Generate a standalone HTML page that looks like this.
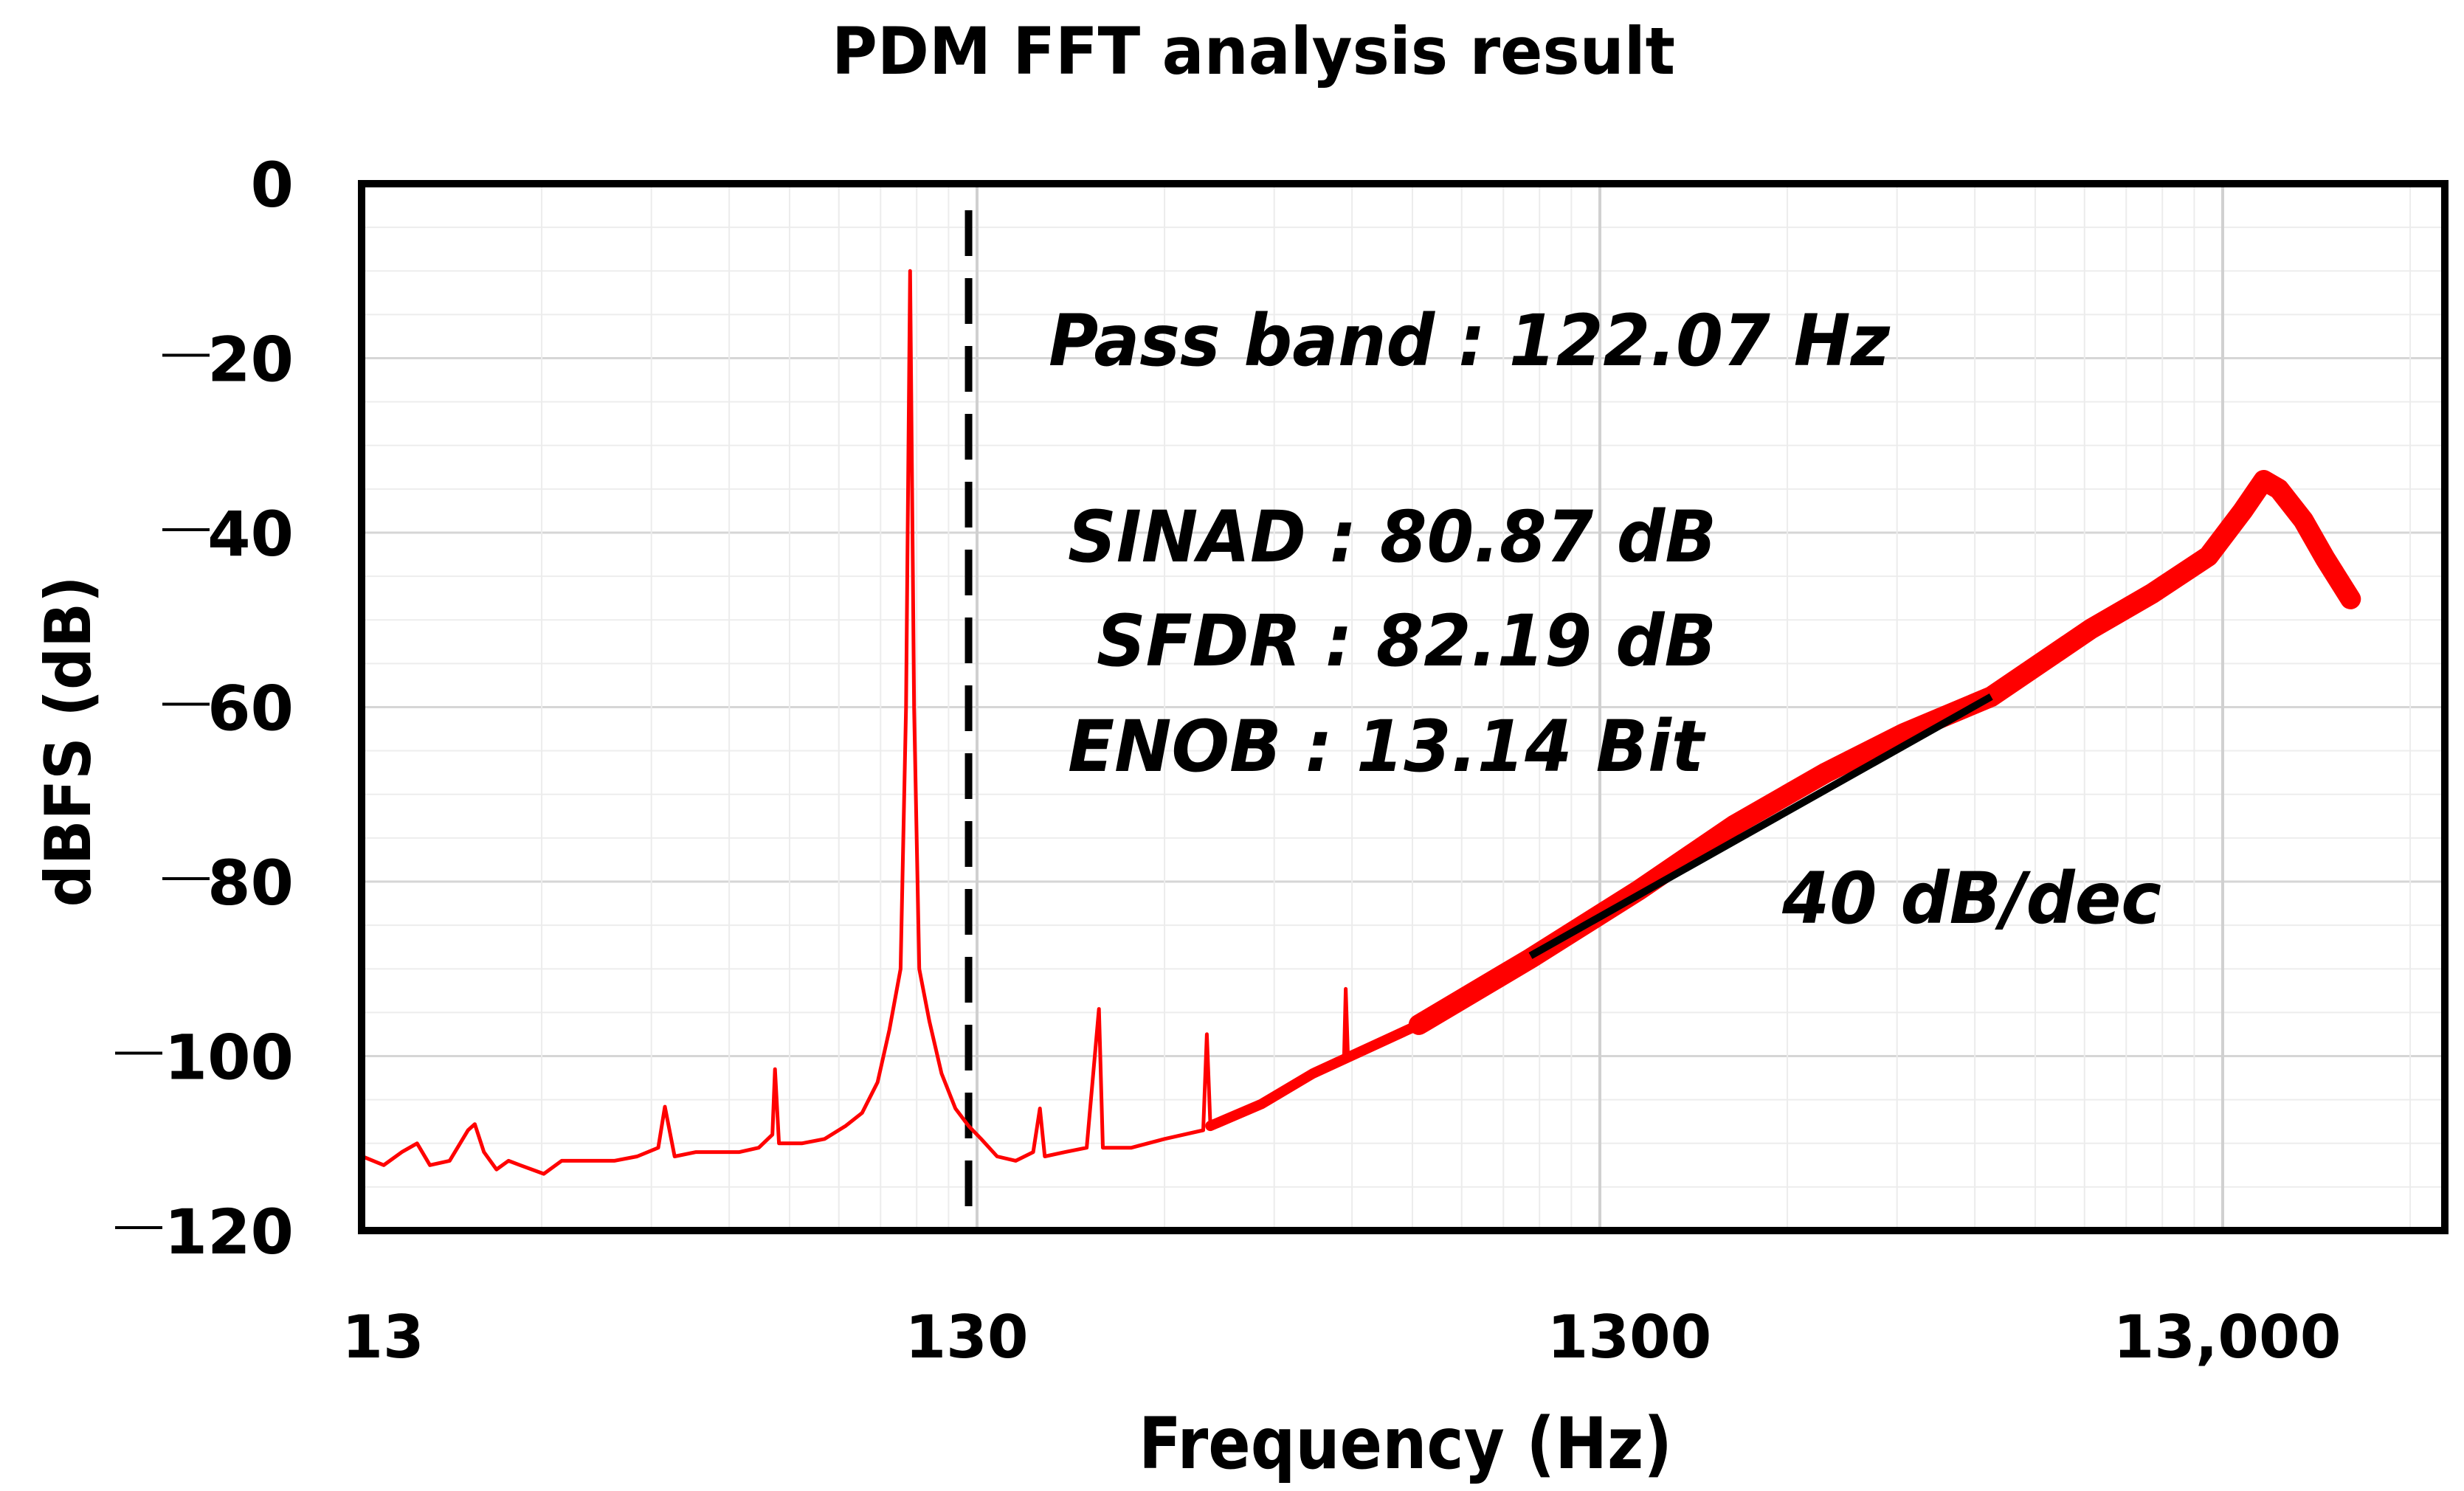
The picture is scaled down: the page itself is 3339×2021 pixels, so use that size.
<!DOCTYPE html>
<html><head><meta charset="utf-8"><style>
html,body{margin:0;padding:0;background:#fff;}
svg{display:block;font-family:"DejaVu Sans","Liberation Sans",sans-serif;}
</style></head><body>
<svg id="chart" width="3339" height="2021" viewBox="0 0 3339 2021" xmlns="http://www.w3.org/2000/svg">
<g id="grid"></g>
<g id="plot"></g>
<text x="1127" y="100" font-size="88" font-weight="bold" textLength="1143" lengthAdjust="spacingAndGlyphs">PDM FFT analysis result</text>
<text transform="translate(122,1005) rotate(-90)" font-size="86" font-weight="bold" text-anchor="middle" textLength="449" lengthAdjust="spacingAndGlyphs">dBFS (dB)</text>
<text x="1543" y="1990" font-size="96" font-weight="bold" textLength="723" lengthAdjust="spacingAndGlyphs">Frequency (Hz)</text>
<g id="yticks"></g>
<g id="xticks"></g>
<g font-weight="bold" font-style="italic" font-size="96">
<text x="1421" y="495" textLength="1140" lengthAdjust="spacingAndGlyphs">Pass band : 122.07 Hz</text>
<text x="1447" y="761" textLength="879" lengthAdjust="spacingAndGlyphs">SINAD : 80.87 dB</text>
<text x="1486" y="902" textLength="840" lengthAdjust="spacingAndGlyphs">SFDR : 82.19 dB</text>
<text x="1447" y="1045" textLength="862" lengthAdjust="spacingAndGlyphs">ENOB : 13.14 Bit</text>
<text x="2415" y="1251" textLength="514" lengthAdjust="spacingAndGlyphs">40 dB/dec</text>
</g>
</svg>
<script>
const freqs=[13.4,14.5,15.5,16.4,17.2,18.5,19.8,20.3,21,22,23,24,26.2,28,31,34,37,40,41,42.5,46,50,54,58,61,61.6,62.5,68,74,80,85,90,94,98,100,101.5,103,105,109,114,120,126,132,140,150,160,164,167,180,195,204,207,230,260,300,304,308,372,450,505,508,512,666,1006,1500,2140,3000,4000,5524,8000,10000,12330,14000,15130,16000,17520,19000,20860];
const dbs=[-111.5,-112.5,-111,-110,-112.5,-112,-108.5,-107.8,-111,-113,-112,-112.5,-113.5,-112,-112,-112,-111.5,-110.5,-105.8,-111.5,-111,-111,-111,-110.5,-109,-101.5,-110,-110,-109.5,-108,-106.5,-103,-97,-90,-60,-10,-60,-90,-96,-102,-106,-108,-109.5,-111.5,-112,-111,-106,-111.5,-111,-110.5,-94.6,-110.5,-110.5,-109.5,-108.5,-97.5,-108,-105.5,-102,-100,-92.3,-99.8,-96.4,-88.8,-81,-73.5,-67.5,-63,-58.8,-51,-47,-42.7,-37.5,-34,-35,-38.6,-43,-47.6];
const yTicks=[0,-20,-40,-60,-80,-100,-120];
const yTickLabels=["0","20","40","60","80","100","120"];
const xTicks=[13,130,1300,13000];
const xTickLabels=["13","130","1300","13,000"];
const passBand=126;
const slopeLine=[[1006,-88.5],[5524,-58.8]];

const L=490,R=3313,T=249,B=1668;
const X130=1324,DEC=844;
const x=f=>X130+Math.log10(f/130)*DEC;
const y=d=>T+(-d)/120*(B-T);
const NS="http://www.w3.org/2000/svg";
function mk(tag,attrs,parent){const e=document.createElementNS(NS,tag);for(const k in attrs)e.setAttribute(k,attrs[k]);parent.appendChild(e);return e;}
const grid=document.getElementById('grid');
const plot=document.getElementById('plot');
for(let d=0;d>=-120;d-=5){
  const ln=mk('line',{x1:L,x2:R,y1:y(d),y2:y(d),stroke:d%20===0?'#d6d6d6':'#ededed','stroke-width':d%20===0?3:2},grid);
  
  
}
for(let dec=1.3;dec<=13000;dec*=10){
  for(let k=1;k<=9;k++){
    const fx=x(dec*k);
    if(fx<=L||fx>=R)continue;
    const major=(k===1&&dec>=130);
    const ln=mk('line',{x1:fx,x2:fx,y1:T,y2:B,stroke:major?'#d0d0d0':'#ececec','stroke-width':major?4:2},grid);
    
    
  }
}
const dl=mk('line',{x1:x(passBand),x2:x(passBand),y1:285,y2:B,stroke:'#000','stroke-width':10,'stroke-dasharray':'62 30'},plot);


let d1='',d2='',d3='';
freqs.forEach((f,i)=>{d1+=(i?'L':'M')+x(f).toFixed(1)+','+y(dbs[i]).toFixed(1);});
const idxA=freqs.findIndex(f=>f>=308);
freqs.slice(idxA).forEach((f,i)=>{const j=idxA+i;if(f>=505&&f<=512)return;d2+=(d2?'L':'M')+x(f).toFixed(1)+','+y(dbs[j]).toFixed(1);});
const idxB=freqs.findIndex(f=>f>=666);
freqs.slice(idxB).forEach((f,i)=>{d3+=(i?'L':'M')+x(f).toFixed(1)+','+y(dbs[idxB+i]).toFixed(1);});
const p1=mk('path',{d:d1,fill:'none',stroke:'#ff0000','stroke-width':5,'stroke-linejoin':'round'},plot);


const p2=mk('path',{d:d2,fill:'none',stroke:'#ff0000','stroke-width':14,'stroke-linejoin':'round','stroke-linecap':'round'},plot);


const p3=mk('path',{d:d3,fill:'none',stroke:'#ff0000','stroke-width':28,'stroke-linejoin':'round','stroke-linecap':'round'},plot);


const sl=mk('line',{x1:x(slopeLine[0][0]),y1:y(slopeLine[0][1]),x2:x(slopeLine[1][0]),y2:y(slopeLine[1][1]),stroke:'#000','stroke-width':10},plot);


const fr=mk('rect',{x:L,y:T,width:R-L,height:B-T,fill:'none',stroke:'#000','stroke-width':10},plot);


const yt=document.getElementById('yticks');
yTicks.forEach((v,i)=>{
  const t=mk('text',{x:398,y:y(v)+31,'font-size':84,'font-weight':'bold','text-anchor':'end'},yt);
  t.textContent=yTickLabels[i];
  
  
  if(v!==0){
    const xe=yTickLabels[i].length>2?220:284;
    const ln=mk('line',{x1:xe-64,x2:xe,y1:y(v)-4,y2:y(v)-4,stroke:'#000','stroke-width':4},yt);
    
    
  }
});
const xt=document.getElementById('xticks');
const xLabelPos=[519,1310,2208,3018];
xTicks.forEach((v,i)=>{
  const t=mk('text',{x:xLabelPos[i],y:1840,'font-size':80,'font-weight':'bold','text-anchor':'middle'},xt);
  t.textContent=xTickLabels[i];
  
  
});
</script>
</body></html>
